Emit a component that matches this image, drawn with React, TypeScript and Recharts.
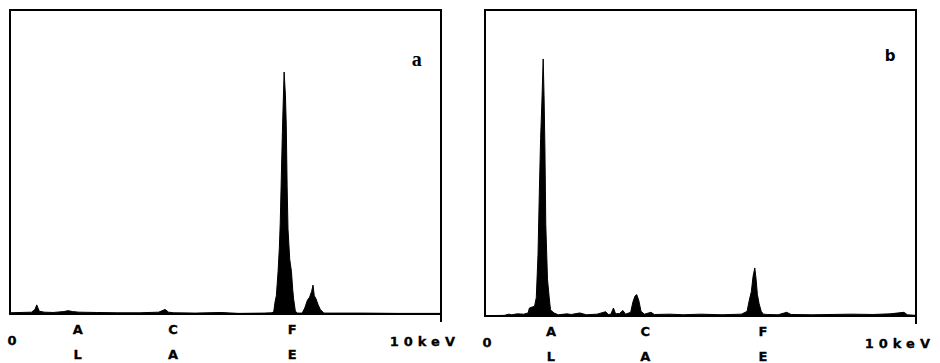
import React from 'react';
import {
    AreaChart,
    Area,
    XAxis,
    YAxis,
    ReferenceArea,
    ReferenceDot,
} from 'recharts';

// spectrum a: energy (keV) and counts (% of full scale)
const energyA = [
    0, 0.5, 0.58, 0.62, 0.68, 0.8, 1.0, 1.25, 1.35, 1.45, 1.6, 2.0, 2.5, 3.0, 3.45, 3.55, 3.6, 3.68,
    3.8, 4.3, 4.9, 5.3, 5.9, 6.08, 6.12, 6.15, 6.18, 6.22, 6.25, 6.27, 6.29, 6.32, 6.34, 6.36, 6.39,
    6.41, 6.43, 6.45, 6.49, 6.53, 6.56, 6.58, 6.62, 6.66, 6.78, 6.84, 6.9, 6.95, 7.0, 7.03, 7.06,
    7.1, 7.15, 7.2, 7.28, 7.5, 8.2, 9.0, 10,
];
const countsA = [
    0.4, 0.6, 1.5, 3.0, 0.9, 0.6, 0.5, 0.8, 1.1, 0.8, 0.6, 0.5, 0.4, 0.4, 0.6, 1.2, 1.5, 0.6,
    0.4, 0.3, 0.5, 0.2, 0.3, 0.4, 0.8, 4, 6, 14, 22, 30, 42, 60, 70, 79.6, 72,
    62, 42, 28, 18, 14, 8, 5, 1, 0.3, 0.3, 2, 4.5, 5.5, 7.5, 9.5, 6,
    5, 3, 1.5, 0.3, 0.3, 0.3, 0.2, 0.2,
];

// spectrum b
const energyB = [
    0, 0.45, 0.55, 0.62, 0.75, 0.9, 1.0, 1.03, 1.15, 1.19, 1.23, 1.26, 1.29, 1.32, 1.35, 1.37, 1.39,
    1.41, 1.45, 1.49, 1.52, 1.6, 1.7, 1.9, 2.0, 2.2, 2.35, 2.6, 2.8, 2.86, 2.92, 2.98, 3.03, 3.12,
    3.2, 3.26, 3.38, 3.43, 3.48, 3.52, 3.57, 3.62, 3.7, 3.85, 3.93, 4.3, 4.6, 5.0, 5.5, 5.95, 6.08,
    6.13, 6.18, 6.22, 6.26, 6.29, 6.32, 6.36, 6.41, 6.46, 6.55, 6.8, 7.0, 7.1, 7.6, 8.5, 9.0, 9.4,
    9.72, 9.8, 10,
];
const countsB = [
    0.1, 0.2, 0.6, 0.4, 0.7, 0.6, 1.0, 2.6, 3.2, 6, 20, 40, 58, 70, 84, 72, 55,
    30, 12, 6, 2, 1, 0.4, 0.7, 0.5, 1.0, 0.4, 0.6, 1.4, 0.5, 0.6, 2.6, 0.7, 0.8,
    1.8, 0.6, 1.2, 4.5, 6.5, 7.0, 5, 1.5, 0.6, 1.2, 0.5, 0.6, 0.4, 0.6, 0.4, 0.6, 1.5,
    5, 8, 13, 15.7, 12, 7, 4, 1.5, 0.6, 0.5, 0.4, 1.2, 0.5, 0.4, 0.6, 0.5, 0.7,
    1.2, 0.4, 0.2,
];

// x-axis element labels
const tickValuesA = [0, 1.57, 3.78, 6.55, 10];
const tickValuesB = [0, 1.53, 3.72, 6.45, 10];
const tickLabels = [['0'], ['A', 'L'], ['C', 'A'], ['F', 'E'], ['10keV']];

const labelFont = 'DejaVu Sans';

const EnergyTick = (props: any) => {
    const { x, y, index } = props;
    const lines = tickLabels[index] || [];
    const common = {
        fill: '#000',
        stroke: '#000',
        strokeWidth: 0.3,
        fontFamily: labelFont,
        fontWeight: 'bold' as const,
        fontSize: 13,
    };
    if (index === 0) {
        return (
            <text x={x + 2} y={y + 31} textAnchor="middle" {...common}>
                {lines[0]}
            </text>
        );
    }
    if (index === tickLabels.length - 1) {
        return (
            <g>
                <line x1={x} y1={y} x2={x} y2={y + 8} stroke="#000" strokeWidth={2} />
                <text x={x + 19} y={y + 32} textAnchor="end" letterSpacing={5} {...common}>
                    {lines[0]}
                </text>
            </g>
        );
    }
    return (
        <g>
            <text x={x} y={y + 20} textAnchor="middle" {...common}>
                {lines[0]}
            </text>
            <text x={x} y={y + 45} textAnchor="middle" {...common}>
                {lines[1]}
            </text>
        </g>
    );
};

interface PanelProps {
    energy: number[];
    counts: number[];
    ticks: number[];
    letter: string;
    letterFont: string;
    letterSize: number;
    letterX: number;
    letterY: number;
    margin: { top: number; right: number; left: number; bottom: number };
    axisHeight: number;
}

const Panel: React.FC<PanelProps> = ({
    energy,
    counts,
    ticks,
    letter,
    letterFont,
    letterSize,
    letterX,
    letterY,
    margin,
    axisHeight,
}) => {
    const data = energy.map((e, i) => ({ e, c: counts[i] }));
    return (
        <AreaChart width={470} height={363} data={data} margin={margin}>
            <XAxis
                dataKey="e"
                type="number"
                domain={[0, 10]}
                ticks={ticks}
                interval={0}
                axisLine={false}
                tickLine={false}
                tickSize={0}
                tickMargin={0}
                height={axisHeight}
                tick={<EnergyTick />}
            />
            <YAxis hide domain={[0, 100]} />
            <Area
                type="linear"
                dataKey="c"
                stroke="#000"
                strokeWidth={1}
                fill="#000"
                fillOpacity={1}
                isAnimationActive={false}
            />
            <ReferenceArea x1={0} x2={10} y1={0} y2={100} fill="none" stroke="#000" strokeWidth={2} />
            <ReferenceDot
                x={letterX}
                y={letterY}
                r={0}
                fill="none"
                stroke="none"
                label={{
                    value: letter,
                    position: 'center',
                    fill: '#000',
                    fontSize: letterSize,
                    fontWeight: 'bold',
                    fontFamily: letterFont,
                }}
            />
        </AreaChart>
    );
};

export default function App() {
    return (
        <div style={{ position: 'absolute', left: 0, top: 0, width: 940, height: 363, background: '#fff' }}>
            <div style={{ position: 'absolute', left: 0, top: 0 }}>
                <Panel
                    energy={energyA}
                    counts={countsA}
                    ticks={tickValuesA}
                    letter="a"
                    letterFont="Liberation Serif"
                    letterSize={20}
                    letterX={9.44}
                    letterY={84}
                    margin={{ top: 10, right: 29, left: 10, bottom: 0 }}
                    axisHeight={49}
                />
            </div>
            <div style={{ position: 'absolute', left: 470, top: 0 }}>
                <Panel
                    energy={energyB}
                    counts={countsB}
                    ticks={tickValuesB}
                    letter="b"
                    letterFont="DejaVu Sans"
                    letterSize={15}
                    letterX={9.4}
                    letterY={85}
                    margin={{ top: 10, right: 24, left: 15, bottom: 0 }}
                    axisHeight={47}
                />
            </div>
        </div>
    );
}
